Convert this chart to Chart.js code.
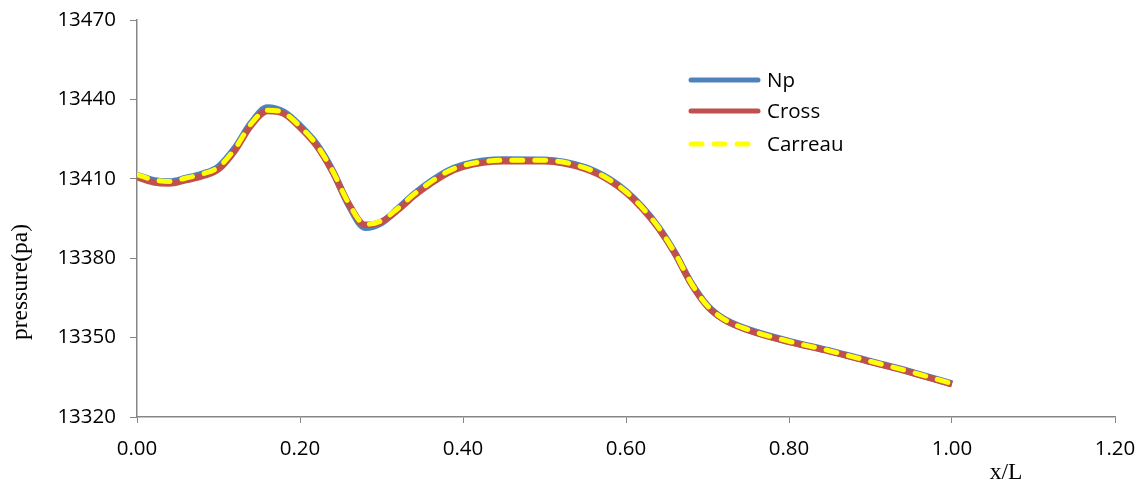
<!DOCTYPE html>
<html>
<head>
<meta charset="utf-8">
<script src="https://cdn.jsdelivr.net/npm/chart.js@4.4.1/dist/chart.umd.min.js"></script>
<style>
html,body{margin:0;padding:0;background:#fff;}
canvas{display:block;}
</style>
</head>
<body>
<canvas id="c" width="1143" height="484"></canvas>
<script>
// ---- data ----
const xPos = [0, 0.02, 0.04, 0.06, 0.08, 0.10, 0.12, 0.14, 0.16, 0.18, 0.20, 0.22, 0.24, 0.26, 0.28, 0.30, 0.32, 0.34, 0.36, 0.38, 0.40, 0.45, 0.50, 0.55, 0.58, 0.60, 0.62, 0.64, 0.66, 0.68, 0.70, 0.72, 0.75, 0.80, 0.85, 0.90, 0.95, 1.00];
const npValues = [13411.3, 13409.4, 13408.9, 13410.2, 13411.8, 13414.5, 13421.5, 13431.0, 13436.8, 13435.2, 13430.0, 13423.2, 13413.0, 13400.0, 13391.6, 13393.4, 13398.6, 13404.2, 13408.8, 13412.7, 13415.2, 13417.2, 13417.1, 13414.2, 13409.7, 13405.2, 13399.2, 13391.6, 13382.0, 13370.6, 13362.0, 13357.0, 13353.0, 13348.6, 13345.0, 13341.0, 13337.0, 13332.5];
const crossValues = [13410.6, 13408.7, 13408.2, 13409.5, 13411.0, 13413.6, 13420.6, 13430.2, 13435.6, 13434.6, 13429.4, 13422.6, 13412.6, 13400.4, 13392.6, 13393.8, 13398.2, 13403.6, 13408.1, 13412.0, 13414.5, 13416.6, 13416.6, 13413.7, 13409.3, 13404.8, 13398.8, 13391.3, 13381.8, 13370.4, 13361.8, 13356.8, 13352.8, 13348.4, 13344.8, 13340.8, 13336.8, 13332.4];
const carreauValues = [13411.6, 13409.6, 13409.0, 13410.3, 13411.8, 13414.4, 13421.3, 13430.8, 13435.9, 13434.9, 13429.8, 13423.0, 13413.0, 13400.6, 13392.8, 13394.2, 13398.8, 13404.2, 13408.7, 13412.6, 13415.0, 13417.0, 13417.0, 13414.1, 13409.6, 13405.1, 13399.1, 13391.6, 13382.0, 13370.6, 13362.0, 13357.0, 13353.0, 13348.6, 13345.0, 13341.0, 13337.0, 13332.6];
const seriesNames = ['Np', 'Cross', 'Carreau'];
const xTitle = 'x/L';
const yTitle = 'pressure(pa)';
const xMin = 0, xMax = 1.2, xStep = 0.2;
const yMin = 13320, yMax = 13470, yStep = 30;

const pts = vals => vals.map((v, i) => ({x: xPos[i], y: v}));
const colors = ['#4F81BD', '#C0504D', '#FFFF00'];
const tickFont = {family: '"Open Sans", sans-serif', size: 20.5};
const axisColor = '#868686';
const noPad = s => { s.paddingTop = 0; s.paddingBottom = 0; s.paddingLeft = 0; s.paddingRight = 0; };

const overlay = {
  id: 'overlay',
  afterDraw(chart) {
    const ctx = chart.ctx;
    ctx.save();
    // legend
    const ys = [80, 111, 144];
    chart.data.datasets.forEach((ds, i) => {
      ctx.beginPath();
      ctx.strokeStyle = ds.borderColor;
      ctx.lineWidth = 5;
      ctx.lineCap = 'round';
      ctx.setLineDash(ds.borderDash ? [11, 12] : []);
      ctx.moveTo(691, ys[i]);
      ctx.lineTo(758, ys[i]);
      ctx.stroke();
      ctx.setLineDash([]);
      ctx.fillStyle = '#000';
      ctx.font = '20.5px "Open Sans", sans-serif';
      ctx.textAlign = 'left';
      ctx.textBaseline = 'middle';
      ctx.fillText(ds.label, 767, ys[i] + 1);
    });
    // axis titles
    ctx.fillStyle = '#000';
    ctx.font = '23.5px "Liberation Serif", "Times New Roman", serif';
    ctx.textAlign = 'center';
    ctx.textBaseline = 'alphabetic';
    ctx.fillText(xTitle, 1006, 479);
    ctx.translate(27, 282);
    ctx.rotate(-Math.PI / 2);
    ctx.fillText(yTitle, 0, 0);
    ctx.restore();
  }
};

new Chart(document.getElementById('c'), {
  type: 'line',
  data: {
    datasets: [
      {label: seriesNames[0], order: 2, data: pts(npValues), borderColor: colors[0], borderWidth: 7, pointRadius: 0, cubicInterpolationMode: 'monotone', fill: false},
      {label: seriesNames[1], order: 1, data: pts(crossValues), borderColor: colors[1], borderWidth: 6.5, pointRadius: 0, cubicInterpolationMode: 'monotone', fill: false},
      {label: seriesNames[2], order: 0, data: pts(carreauValues), borderColor: colors[2], borderWidth: 5, borderDash: [11, 12], borderCapStyle: 'round', pointRadius: 0, cubicInterpolationMode: 'monotone', fill: false}
    ]
  },
  options: {
    responsive: false,
    animation: false,
    layout: {padding: {left: 0, right: 28, top: 20, bottom: 0}},
    plugins: {legend: {display: false}, tooltip: {enabled: false}},
    scales: {
      x: {
        type: 'linear', min: xMin, max: xMax,
        ticks: {stepSize: xStep, callback: v => v.toFixed(2), font: tickFont, color: '#000', padding: 14, maxRotation: 0, autoSkip: false},
        grid: {display: true, drawOnChartArea: false, drawTicks: true, tickLength: 6, color: axisColor},
        border: {color: axisColor, width: 1.5},
        afterFit: s => { s.height = 67; noPad(s); }
      },
      y: {
        min: yMin, max: yMax,
        ticks: {stepSize: yStep, font: tickFont, color: '#000', padding: 14, callback: v => String(v)},
        grid: {display: true, drawOnChartArea: false, drawTicks: true, tickLength: 7, color: axisColor},
        border: {color: axisColor, width: 1.5},
        afterFit: s => { s.width = 137; noPad(s); }
      }
    }
  },
  plugins: [overlay]
});
</script>
</body>
</html>
